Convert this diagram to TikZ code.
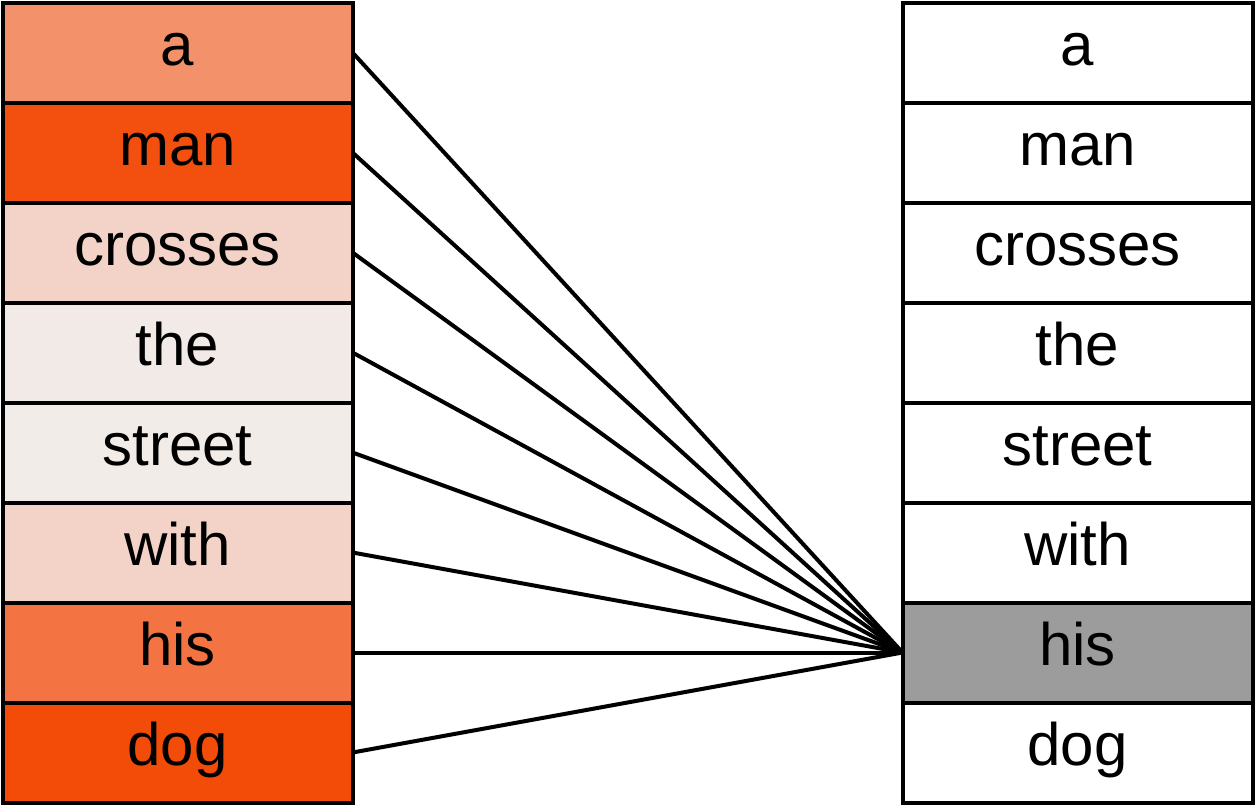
\documentclass[tikz,border=0pt]{standalone}
\usepackage{fontspec}
\setmainfont{Liberation Sans}
\definecolor{ca}{RGB}{243,145,106}
\definecolor{cman}{RGB}{243,79,15}
\definecolor{ccross}{RGB}{243,211,199}
\definecolor{cthe}{RGB}{242,234,230}
\definecolor{cstreet}{RGB}{242,236,233}
\definecolor{cwith}{RGB}{243,211,199}
\definecolor{chis}{RGB}{243,115,66}
\definecolor{cdog}{RGB}{243,75,8}
\definecolor{cgray}{RGB}{156,156,156}
\begin{document}
\begin{tikzpicture}[x=0.5pt,y=-0.5pt,
  wordbox/.style={draw=black,line width=2pt,minimum width=175pt,minimum height=50pt,inner sep=0pt,outer sep=0pt,text height=20pt,text depth=7.5pt,font=\fontsize{30}{36}\selectfont},
  link/.style={draw=black,line width=2pt}]
\useasboundingbox (0,0) rectangle (1255,805);
\foreach \w/\c [count=\i from 0] in {a/ca,man/cman,crosses/ccross,the/cthe,street/cstreet,with/cwith,his/chis,dog/cdog}{
  \node[wordbox,fill=\c] (L\i) at (177.5,52.5+100*\i) {\w};
}
\foreach \w [count=\i from 0] in {a,man,crosses,the,street,with,his,dog}{
  \node[wordbox,fill=white] (R\i) at (1077.5,52.5+100*\i) {\w};
}
\node[wordbox,fill=cgray] at (R6) {his};
\foreach \i in {0,...,7}{
  \draw[link] (L\i.east) -- (R6.west);
}
\end{tikzpicture}
\end{document}
